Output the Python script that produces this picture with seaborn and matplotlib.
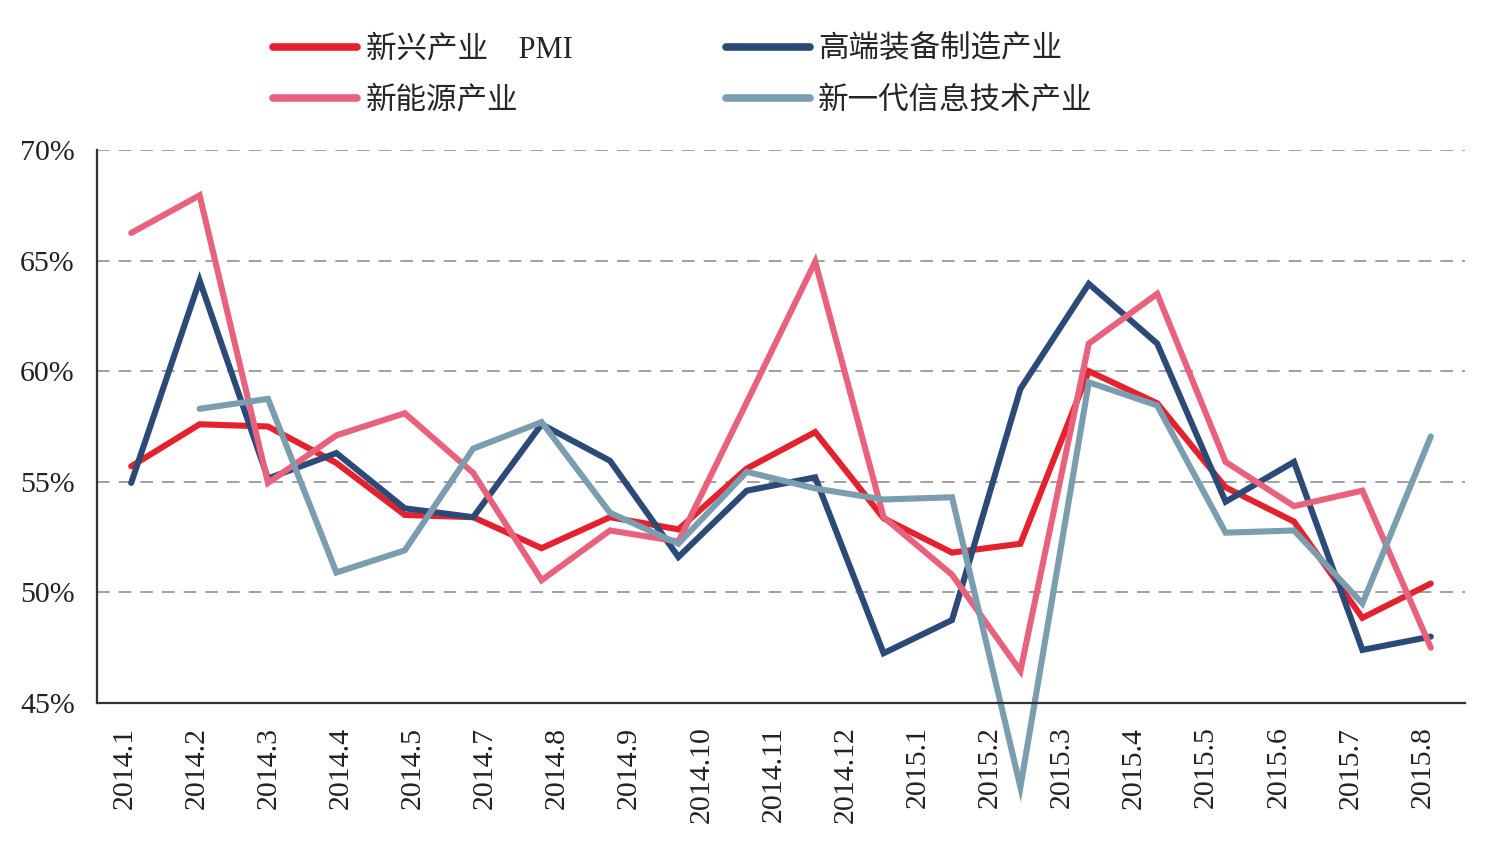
import numpy as np
import pandas as pd
import matplotlib
matplotlib.use('Agg')
import matplotlib.pyplot as plt
import seaborn as sns

# 20 monthly points, but the original axis shows only 19 labels (2014.6 missing)
months = ['2014.1', '2014.2', '2014.3', '2014.4', '2014.5', '2014.6', '2014.7', '2014.8',
          '2014.9', '2014.10', '2014.11', '2014.12', '2015.1', '2015.2', '2015.3', '2015.4',
          '2015.5', '2015.6', '2015.7', '2015.8']
tick_labels = ['2014.1', '2014.2', '2014.3', '2014.4', '2014.5', '2014.7', '2014.8', '2014.9',
               '2014.10', '2014.11', '2014.12', '2015.1', '2015.2', '2015.3', '2015.4', '2015.5',
               '2015.6', '2015.7', '2015.8']

pmi_new = [55.7, 57.6, 57.5, 55.85, 53.5, 53.4, 52.0, 53.4, 52.85, 55.6,
           57.25, 53.35, 51.8, 52.2, 60.0, 58.55, 54.75, 53.2, 48.85, 50.4]
high_end = [54.95, 64.1, 55.15, 56.3, 53.8, 53.4, 57.6, 55.95, 51.6, 54.6,
            55.2, 47.25, 48.75, 59.2, 63.95, 61.25, 54.1, 55.9, 47.4, 48.0]
new_energy = [66.25, 67.95, 54.95, 57.1, 58.1, 55.4, 50.55, 52.8, 52.3, 58.6,
              64.95, 53.4, 50.8, 46.45, 61.25, 63.5, 55.9, 53.9, 54.6, 47.5]
info_tech = [np.nan, 58.3, 58.75, 50.9, 51.9, 56.5, 57.7, 53.6, 52.2, 55.45,
             54.7, 54.2, 54.3, 41.2, 59.5, 58.45, 52.7, 52.8, 49.5, 57.05]

names = ['新兴产业　PMI', '高端装备制造产业', '新能源产业', '新一代信息技术产业']
colors = ['#e3222e', '#2c4a78', '#e8627e', '#7b9db0']
series = [pmi_new, high_end, new_energy, info_tech]

sns.set_style('white')
plt.rcParams['font.family'] = ['Liberation Serif', 'Noto Sans CJK SC']
plt.rcParams['axes.unicode_minus'] = False

fig = plt.figure(figsize=(14.88, 8.42), dpi=100)
ax = fig.add_axes([97 / 1488, 1 - 703 / 842, (1465 - 97) / 1488, (703 - 150) / 842])

handles = []
for name, vals, col in zip(names, series, colors):
    df = pd.DataFrame({'x': np.arange(len(months)), 'v': vals}).dropna()
    sns.lineplot(data=df, x='x', y='v', color=col, linewidth=4.4, ax=ax, label=name)
    ln = ax.lines[-1]
    ln.set_clip_on(False)
    ln.set_solid_joinstyle('miter')
    handles.append(ln)
ax.get_legend().remove()

ax.set_xlim(-0.5, len(months) - 0.5)
ax.set_ylim(45, 70)
ax.set_yticks([45, 50, 55, 60, 65, 70])
ax.set_yticklabels([f'{v}%' for v in [45, 50, 55, 60, 65, 70]])
ax.set_xticks(np.linspace(-0.1, 18.88, len(tick_labels)))
ax.set_xticklabels(tick_labels, rotation=90)
ax.set_xlabel('')
ax.set_ylabel('')
ax.tick_params(axis='both', length=0, labelsize=21.5, colors='#222222')
ax.tick_params(axis='x', pad=17)
ax.tick_params(axis='y', pad=16)

for v in [50, 55, 60, 65, 70]:
    ax.axhline(v, color='#999999', linestyle=(0, (7, 5)), linewidth=1.3, zorder=0)

for s in ['top', 'right']:
    ax.spines[s].set_visible(False)
for s in ['left', 'bottom']:
    ax.spines[s].set_color('#333333')
    ax.spines[s].set_linewidth(1.6)

# legend filled column-wise: keep series order across rows
order = [0, 2, 1, 3]
leg = fig.legend([handles[i] for i in order], [names[i] for i in order],
                 loc='center', bbox_to_anchor=(0.459, 0.910), ncol=2, frameon=False,
                 fontsize=22, handlelength=2.75, handletextpad=0.28, columnspacing=5.0,
                 labelspacing=0.72)
for h in leg.legend_handles:
    h.set_linewidth(5.5)
    h.set_solid_capstyle('round')

fig.savefig('out.png', dpi=100)
